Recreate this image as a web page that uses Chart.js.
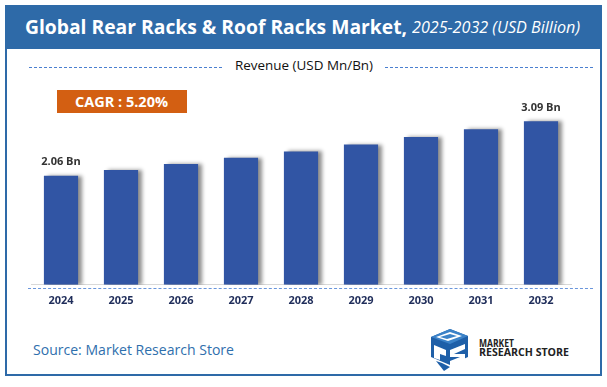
<!DOCTYPE html>
<html><head><meta charset="utf-8">
<script src="https://cdn.jsdelivr.net/npm/chart.js@4.4.1/dist/chart.umd.min.js"></script>
<style>
html,body{margin:0;padding:0;background:#fff;width:607px;height:387px;overflow:hidden;font-family:"Open Sans",sans-serif;}
#frame{position:absolute;left:5px;top:5px;width:593px;height:369px;border:2px solid #2e6aa8;border-top:none;}
#titlebar{position:absolute;left:5px;top:5px;width:597px;height:44px;background:#2e6aa8;}
.fit{position:absolute;white-space:nowrap;transform-origin:0 50%;line-height:1;}
#t1{left:25px;top:17px;color:#fff;font-weight:bold;font-size:20px;}
#t2{left:412px;top:19px;color:#fff;font-style:italic;font-size:16px;}
#rev{left:235px;top:59px;color:#111;font-size:13px;}
.dash{position:absolute;height:0;border-top:1px dashed #4a7fd0;}
#cagr{position:absolute;left:57px;top:90px;width:130px;height:23px;background:#d35f12;}
#cagrt{left:75px;top:95px;color:#fff;font-weight:bold;font-size:14px;}
#src{left:33px;top:342px;color:#2f6fad;font-size:15px;}
#lg1{left:479px;top:338px;color:#222;font-weight:bold;font-size:10px;}
#lg2{left:479px;top:347px;color:#222;font-weight:bold;font-size:10px;}
#c{position:absolute;left:0;top:0;}
</style></head>
<body>
<div id="frame"></div>
<div id="titlebar"></div>
<span class="fit" id="t1" data-w="382">Global Rear Racks &amp; Roof Racks Market,</span>
<span class="fit" id="t2" data-w="168">2025-2032 (USD Billion)</span>
<div class="dash" style="left:29px;top:67px;width:193px;"></div>
<div class="dash" style="left:385px;top:67px;width:208px;"></div>
<span class="fit" id="rev" data-w="138">Revenue (USD Mn/Bn)</span>
<div id="cagr"></div>
<span class="fit" id="cagrt" data-w="93">CAGR : 5.20%</span>
<div class="dash" style="left:28px;top:288px;width:565px;border-top:1.5px dashed #6a96dc;"></div>
<span class="fit" id="src" data-w="201">Source: Market Research Store</span>
<svg style="position:absolute;left:428px;top:327px" width="42" height="47" viewBox="0 0 42 47">
  <polygon points="3,10 22,2 40,9 40,30 22,38 3,30" fill="#1e5fa8"/>
  <polygon points="3,10 22,2 40,9 22,17" fill="#3b82c8"/>
  <polygon points="8,10 22,5 34,9 20,14" fill="#fff"/>
  <polygon points="12,10 22,7 29,9 19,12" fill="#3b82c8"/>
  <polygon points="6,18 18,23 18,29 12,27 12,33 6,31" fill="#fff"/>
  <polygon points="22,23 37,17 37,22 26,27 37,27 37,33 22,39 22,34 32,30 22,30" fill="#fff"/>
  <polygon points="8,34 16,44 22,40 14,36" fill="#1e5fa8"/>
</svg>
<span class="fit" id="lg1" data-w="35">MARKET</span>
<span class="fit" id="lg2" data-w="90">RESEARCH STORE</span>
<canvas id="c" width="607" height="387"></canvas>
<script>
const years = ['2024','2025','2026','2027','2028','2029','2030','2031','2032'];
const revenue = [2.06, 2.17, 2.28, 2.40, 2.52, 2.65, 2.79, 2.94, 3.09];
const valueLabels = ['2.06 Bn','','','','','','','','3.09 Bn'];

document.querySelectorAll('.fit').forEach(el=>{
  const w = el.getBoundingClientRect().width;
  const t = +el.dataset.w;
  el.style.transform = 'scaleX(' + (t/w) + ')';
});

const shadowPlugin = {
  id:'shadow',
  beforeDatasetsDraw(chart){const c=chart.ctx;c.save();c.shadowColor='rgba(0,0,0,0.45)';c.shadowOffsetX=4;c.shadowOffsetY=0;c.shadowBlur=4;},
  afterDatasetsDraw(chart){chart.ctx.restore();}
};
const labelPlugin = {
  id:'vlabels',
  afterDatasetsDraw(chart){
    const c=chart.ctx; const meta=chart.getDatasetMeta(0);
    c.save(); c.font='bold 11px "Open Sans"'; c.fillStyle='#333'; c.textAlign='center'; c.textBaseline='bottom';
    meta.data.forEach((b,i)=>{ if(valueLabels[i]) c.fillText(valueLabels[i], b.x, b.y-8); });
    c.restore();
  }
};
new Chart(document.getElementById('c'),{
  type:'bar',
  data:{labels:years,datasets:[{data:revenue,backgroundColor:'#3155a4',borderWidth:0,barPercentage:0.57,categoryPercentage:1}]},
  options:{
    responsive:false,animation:false,
    layout:{padding:{left:31,right:36,top:99.5,bottom:71}},
    plugins:{legend:{display:false},tooltip:{enabled:false}},
    scales:{
      x:{grid:{display:false,drawTicks:false},border:{display:true,color:'#d9d9d9',width:1},
         ticks:{color:'#1f2d5a',font:{family:'"Open Sans"',size:11,weight:'bold'},padding:9}},
      y:{display:false,min:0,max:3.5}
    }
  },
  plugins:[shadowPlugin,labelPlugin]
});
</script>
</body></html>
